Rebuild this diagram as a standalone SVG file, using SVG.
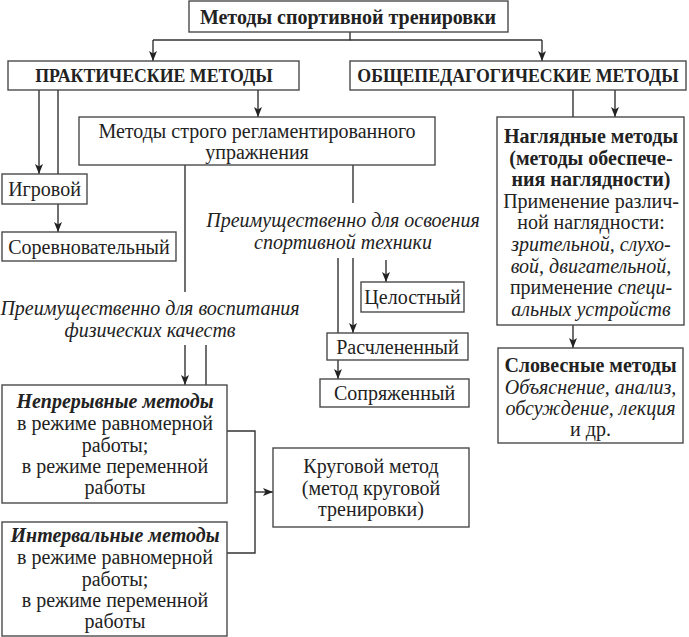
<svg xmlns="http://www.w3.org/2000/svg" width="689" height="637" viewBox="0 0 689 637">
<style>
  .box { fill: #ffffff; stroke: #4a4a4a; stroke-width: 1.4; }
  .t { font-family: "Liberation Serif", "Times New Roman", serif; font-size: 20px; fill: #222222; text-anchor: middle; }
  .b { font-weight: bold; }
  .i { font-style: italic; }
  .cap { font-size: 17.8px; font-weight: bold; }
  .ln { fill: none; stroke: #333333; stroke-width: 1.4; }
  .ar { fill: none; stroke: #333333; stroke-width: 1.4; marker-end: url(#arr); }
</style>
<defs>
  <marker id="arr" markerUnits="userSpaceOnUse" markerWidth="10" markerHeight="8" refX="10" refY="4" orient="auto">
    <path d="M0,0 L10,4 L0,8 L2.5,4 z" fill="#222222"/>
  </marker>
</defs>
<rect width="689" height="637" fill="#ffffff"/>

<g id="connectors">
  <path class="ln" d="M350,32 V40 H153"/>
  <path class="ln" d="M350,40 H542"/>
  <path class="ar" d="M153,40 V61"/>
  <path class="ar" d="M542,40 V61"/>
  <path class="ar" d="M39,90 V174"/>
  <path class="ln" d="M58,90 V174"/>
  <path class="ar" d="M58,204 V232"/>
  <path class="ar" d="M258,90 V117"/>
  <path class="ln" d="M185,165 V292"/>
  <path class="ln" d="M353,165 V203"/>
  <path class="ar" d="M338,258 V379"/>
  <path class="ar" d="M353,258 V333"/>
  <path class="ar" d="M386,260 V282"/>
  <path class="ar" d="M185,345 V385"/>
  <path class="ln" d="M206,345 V385"/>
  <path class="ln" d="M227,431 H255 V553 H227"/>
  <path class="ar" d="M255,492 H273"/>
  <path class="ln" d="M573,90 V117"/>
  <path class="ar" d="M615,90 V117"/>
  <path class="ar" d="M573,325 V348"/>
</g>

<g id="root">
  <rect class="box" x="189" y="1" width="319" height="31"/>
  <text class="t b" x="348" y="24">Методы спортивной тренировки</text>
</g>
<g id="practical">
  <rect class="box" x="8" y="61" width="291" height="29"/>
  <text class="t cap" x="154" y="82">ПРАКТИЧЕСКИЕ МЕТОДЫ</text>
</g>
<g id="general">
  <rect class="box" x="350" y="61" width="336" height="29"/>
  <text class="t cap" x="518" y="82">ОБЩЕПЕДАГОГИЧЕСКИЕ МЕТОДЫ</text>
</g>
<g id="strict">
  <rect class="box" x="79" y="117" width="356" height="48"/>
  <text class="t" x="257" y="138">Методы строго регламентированного</text>
  <text class="t" x="257" y="159">упражнения</text>
</g>
<g id="game">
  <rect class="box" x="2" y="174" width="85" height="30"/>
  <text class="t" x="44.5" y="196">Игровой</text>
</g>
<g id="competitive">
  <rect class="box" x="2" y="232" width="174" height="29"/>
  <text class="t" x="89" y="254">Соревновательный</text>
</g>
<g id="label-technique">
  <text class="t i" x="343" y="227">Преимущественно для освоения</text>
  <text class="t i" x="343" y="249">спортивной техники</text>
</g>
<g id="label-qualities">
  <text class="t i" x="150" y="315">Преимущественно для воспитания</text>
  <text class="t i" x="150" y="337">физических качеств</text>
</g>
<g id="whole">
  <rect class="box" x="361" y="282" width="103" height="30"/>
  <text class="t" x="412.5" y="304">Целостный</text>
</g>
<g id="split">
  <rect class="box" x="327" y="333" width="141" height="27"/>
  <text class="t" x="397.5" y="354">Расчлененный</text>
</g>
<g id="conjugate">
  <rect class="box" x="320" y="379" width="149" height="28"/>
  <text class="t" x="394.5" y="400">Сопряженный</text>
</g>
<g id="continuous">
  <rect class="box" x="2" y="385" width="225" height="118"/>
  <text class="t b i" x="115" y="408">Непрерывные методы</text>
  <text class="t" x="115" y="430">в режиме равномерной</text>
  <text class="t" x="115" y="452">работы;</text>
  <text class="t" x="115" y="473">в режиме переменной</text>
  <text class="t" x="115" y="494">работы</text>
</g>
<g id="interval">
  <rect class="box" x="2" y="522" width="225" height="114"/>
  <text class="t b i" x="115" y="542">Интервальные методы</text>
  <text class="t" x="115" y="564">в режиме равномерной</text>
  <text class="t" x="115" y="586">работы;</text>
  <text class="t" x="115" y="607">в режиме переменной</text>
  <text class="t" x="115" y="628">работы</text>
</g>
<g id="circuit">
  <rect class="box" x="273" y="448" width="196" height="79"/>
  <text class="t" x="371" y="473">Круговой метод</text>
  <text class="t" x="371" y="495">(метод круговой</text>
  <text class="t" x="371" y="516">тренировки)</text>
</g>
<g id="visual">
  <rect class="box" x="497" y="117" width="187" height="208"/>
  <text class="t b" x="591" y="143">Наглядные методы</text>
  <text class="t b" x="591" y="165">(методы обеспече-</text>
  <text class="t b" x="591" y="186">ния наглядности)</text>
  <text class="t" x="591" y="208">Применение различ-</text>
  <text class="t" x="591" y="229">ной наглядности:</text>
  <text class="t i" x="591" y="251">зрительной, слухо-</text>
  <text class="t i" x="591" y="273">вой, двигательной,</text>
  <text class="t" x="591" y="294">применение <tspan class="i">специ-</tspan></text>
  <text class="t i" x="591" y="316">альных устройств</text>
</g>
<g id="verbal">
  <rect class="box" x="498" y="348" width="185" height="95"/>
  <text class="t b" x="590.5" y="372">Словесные методы</text>
  <text class="t i" x="590.5" y="394">Объяснение, анализ,</text>
  <text class="t i" x="590.5" y="415">обсуждение, лекция</text>
  <text class="t" x="590.5" y="436">и др.</text>
</g>
</svg>
